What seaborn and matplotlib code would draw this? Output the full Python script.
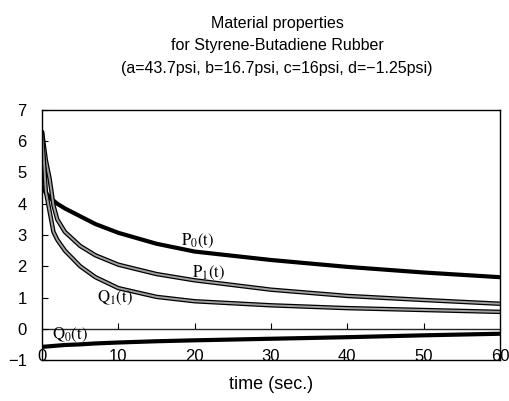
import pandas as pd
import numpy as np
import matplotlib
matplotlib.use("Agg")
import matplotlib.pyplot as plt
import seaborn as sns

# values
t = [0, 0.5, 1, 1.5, 2, 3, 5, 7, 10, 15, 20, 30, 40, 50, 60]
p0 = [4.55, 4.35, 4.2, 4.1, 4.0, 3.85, 3.6, 3.35, 3.07, 2.72, 2.47, 2.2, 1.98, 1.8, 1.65]
p1 = [6.3, 5.4, 4.8, 3.95, 3.5, 3.1, 2.65, 2.35, 2.05, 1.75, 1.55, 1.25, 1.05, 0.92, 0.8]
q1 = [6.3, 4.4, 3.75, 3.1, 2.85, 2.5, 2.0, 1.65, 1.3, 1.02, 0.88, 0.75, 0.66, 0.6, 0.54]
q0 = [-0.58, -0.57, -0.56, -0.55, -0.54, -0.52, -0.5, -0.47, -0.44, -0.4, -0.37, -0.32, -0.27, -0.21, -0.16]

x_ticks = [0, 10, 20, 30, 40, 50, 60]
y_ticks = [-1, 0, 1, 2, 3, 4, 5, 6, 7]

title = "Material properties\nfor Styrene-Butadiene Rubber\n(a=43.7psi, b=16.7psi, c=16psi, d=\u22121.25psi)"

df = pd.DataFrame({"t": t, "P0": p0, "P1": p1, "Q1": q1, "Q0": q0})

sns.set_style("white")
plt.rcParams["font.family"] = ["Liberation Sans", "DejaVu Sans"]
plt.rcParams["mathtext.fontset"] = "stix"
plt.rcParams["text.color"] = "black"
plt.rcParams["axes.labelcolor"] = "black"
plt.rcParams["xtick.color"] = "black"
plt.rcParams["ytick.color"] = "black"

fig = plt.figure(figsize=(5.1, 4.01), dpi=100)
ax = fig.add_axes([42 / 510, 41 / 401, 458 / 510, 250 / 401])

# thick black curves
sns.lineplot(data=df, x="t", y="P0", ax=ax, color="black", linewidth=3.0)
sns.lineplot(data=df, x="t", y="Q0", ax=ax, color="black", linewidth=3.0)
# grey outlined curves
for col in ["P1", "Q1"]:
    sns.lineplot(data=df, x="t", y=col, ax=ax, color="black", linewidth=3.2)
    sns.lineplot(data=df, x="t", y=col, ax=ax, color="#a0a0a0", linewidth=1.4)

ax.set_xlim(0, 60)
ax.set_ylim(-1, 7)
ax.set_xticks(x_ticks)
ax.set_yticks(y_ticks)
ax.tick_params(axis="x", length=0, pad=-8, labelsize=12)
ax.tick_params(axis="y", direction="in", length=4, width=0.8, pad=11, labelsize=12, left=True)
for s in ax.spines.values():
    s.set_visible(True)
    s.set_color("black")
    s.set_linewidth(1.0)

# zero line with small upward ticks
zero = ax.secondary_xaxis(1 / 8)
zero.set_xticks(x_ticks[1:-1])
zero.tick_params(direction="in", length=4, width=0.8, labelbottom=False, labeltop=False)
zero.spines["bottom"].set_linewidth(1.0)

ax.set_xlabel("time (sec.)", fontsize=13)
ax.xaxis.set_label_coords(0.5, -0.065)
ax.set_ylabel("")

lab = dict(fontsize=12, color="black")
ax.text(18.2, 2.8, r"$\mathrm{P_0(t)}$", va="center", **lab)
ax.text(19.7, 1.8, r"$\mathrm{P_1(t)}$", va="center", **lab)
ax.text(7.2, 1.0, r"$\mathrm{Q_1(t)}$", va="center", **lab)
ax.text(1.3, -0.2, r"$\mathrm{Q_0(t)}$", va="center", **lab)

fig.text(277 / 510, 1 - 16 / 401, title, ha="center", va="top", fontsize=11.5, linespacing=1.62)

fig.savefig("out.png", dpi=100)
